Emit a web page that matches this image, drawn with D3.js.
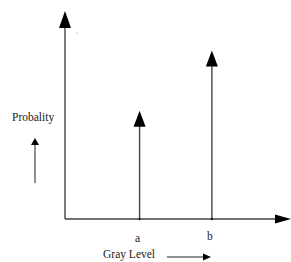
<!DOCTYPE html>
<html>
<head>
<meta charset="utf-8">
<script src="https://cdn.jsdelivr.net/npm/d3@7"></script>
<style>
body{margin:0;background:#fff;}
text{font-family:"Liberation Serif","Times New Roman",serif;font-size:11.5px;fill:#222;}
</style>
</head>
<body>
<script>
const categories = ['a','b'];
const grayLevels = [0.33, 0.65];
const probabilities = [0.52, 0.81];

const width = 291, height = 262;
const svg = d3.select('body').append('svg')
              .attr('width',width).attr('height',height);

const x = d3.scaleLinear().domain([0,1]).range([65,291]);
const y = d3.scaleLinear().domain([0,1]).range([219,11]);

const line = '#444';

// vertical arrowhead pointing up, tip at (cx,ty)
function upHead(cx, ty, w, h){
  return `M${cx},${ty}L${cx+w/2},${ty+h}L${cx-w/2},${ty+h}Z`;
}
function rightHead(tx, cy, w, h){
  return `M${tx},${cy}L${tx-w},${cy-h/2}L${tx-w},${cy+h/2}Z`;
}

// axes
svg.append('line').attr('x1',x(0)).attr('x2',x(0)).attr('y1',y(0)).attr('y2',y(1)+15)
   .style('stroke',line).style('stroke-width',1.4);
svg.append('path').attr('d',upHead(x(0),y(1),12,17)).style('fill','black');
svg.append('line').attr('x1',x(0)).attr('x2',x(1)-14).attr('y1',y(0)).attr('y2',y(0))
   .style('stroke',line).style('stroke-width',1.4);
svg.append('path').attr('d',rightHead(x(1),y(0),16,9)).style('fill','black');
svg.append('circle').attr('cx',77).attr('cy',33).attr('r',0.5).style('fill','#888');

// stems
const stems = svg.selectAll('g.stem').data(categories).join('g').attr('class','stem');
stems.append('line')
     .attr('x1',(d,i)=>x(grayLevels[i])).attr('x2',(d,i)=>x(grayLevels[i]))
     .attr('y1',y(0)).attr('y2',(d,i)=>y(probabilities[i])+15)
     .style('stroke',line).style('stroke-width',1.4);
stems.append('path').attr('d',(d,i)=>upHead(x(grayLevels[i]),y(probabilities[i]),12,16))
     .style('fill','black');
stems.append('circle').attr('cx',(d,i)=>x(grayLevels[i])).attr('cy',y(0)).attr('r',1.2).style('fill','#222');
stems.append('text').attr('x',(d,i)=>x(grayLevels[i])-2).attr('y',(d,i)=>i==0?242:240)
     .attr('text-anchor','middle').text(d=>d);

// axis labels with little arrows
svg.append('text').attr('x',12).attr('y',121).text('Probality');
svg.append('line').attr('x1',35).attr('x2',35).attr('y1',183).attr('y2',144)
   .style('stroke',line).style('stroke-width',1.2);
svg.append('path').attr('d',upHead(35,138,8,7)).style('fill','black');

svg.append('text').attr('x',103).attr('y',258).text('Gray Level');
svg.append('line').attr('x1',167).attr('x2',205).attr('y1',257).attr('y2',257)
   .style('stroke','#222').style('stroke-width',1.2);
svg.append('path').attr('d',rightHead(211,257,8,7)).style('fill','black');
</script>
</body>
</html>
